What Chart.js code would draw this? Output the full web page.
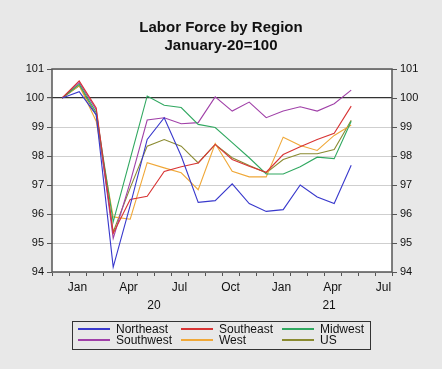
<!DOCTYPE html>
<html>
<head>
<meta charset="utf-8">
<script src="https://cdn.jsdelivr.net/npm/chart.js@4.4.1/dist/chart.umd.min.js"></script>
<style>
  html, body { margin: 0; padding: 0; background: #e8e8e8; }
  #wrap { position: relative; width: 442px; height: 369px; font-family: "Liberation Sans", Arial, sans-serif; }
  #legend { position: absolute; left: 72px; top: 321px; width: 297px; height: 27px; border: 1px solid #333; }
  #legend .ln { position: absolute; height: 2px; width: 32px; z-index: 2; }
  #legend .tx { position: absolute; font-size: 12px; line-height: 12px; color: #111; }
</style>
</head>
<body>
<div id="wrap">
  <canvas id="chart" width="442" height="369"></canvas>
  <div id="legend"></div>
</div>
<script>
// months Jan-20 .. Jun-21, index 100 = January 2020
const months = ['Jan-20','Feb-20','Mar-20','Apr-20','May-20','Jun-20','Jul-20','Aug-20','Sep-20',
                'Oct-20','Nov-20','Dec-20','Jan-21','Feb-21','Mar-21','Apr-21','May-21','Jun-21'];

const northeast = [100, 100.22, 99.42, 94.17, 96.3, 98.57, 99.32, 98.0, 96.40, 96.46, 97.04, 96.36, 96.09, 96.15, 97.0, 96.59, 96.36, 97.68];
const southeast = [100, 100.59, 99.66, 95.33, 96.5, 96.61, 97.47, 97.63, 97.76, 98.40, 97.88, 97.65, 97.44, 98.05, 98.32, 98.57, 98.78, 99.72];
const midwest   = [100, 100.47, 99.5, 95.73, 97.9, 100.07, 99.75, 99.67, 99.09, 98.98, 98.46, 97.94, 97.38, 97.38, 97.63, 97.96, 97.91, 99.20];
const southwest = [100, 100.53, 99.6, 95.16, 97.1, 99.24, 99.32, 99.11, 99.15, 100.04, 99.55, 99.86, 99.32, 99.55, 99.70, 99.55, 99.80, 100.27];
const west      = [100, 100.44, 99.2, 95.9, 95.82, 97.77, 97.59, 97.42, 96.84, 98.43, 97.47, 97.28, 97.28, 98.65, 98.36, 98.19, 98.71, 99.07];
const us        = [100, 100.42, 99.42, 95.38, 96.9, 98.34, 98.57, 98.34, 97.76, 98.40, 97.94, 97.67, 97.42, 97.88, 98.08, 98.08, 98.22, 99.23];

const quarterLabels = ['Jan','Apr','Jul','Oct','Jan','Apr','Jul'];
const quarterPos    = [1.5, 4.5, 7.5, 10.5, 13.5, 16.5, 19.5];
const yearLabels    = ['20','21'];
const yearPos       = [6, 16.3];
const yTicks        = [94, 95, 96, 97, 98, 99, 100, 101];

const series = [
  { name: 'Northeast', data: northeast, color: '#3838cc' },
  { name: 'Southeast', data: southeast, color: '#d83434' },
  { name: 'Midwest',   data: midwest,   color: '#30a860' },
  { name: 'Southwest', data: southwest, color: '#a040a8' },
  { name: 'West',      data: west,      color: '#f0a838' },
  { name: 'US',        data: us,        color: '#8a8a30' }
];

const font = "'Liberation Sans', Arial, sans-serif";

// white plot area + dark frame
const frame = {
  id: 'frame',
  beforeDraw(chart) {
    const a = chart.chartArea, c = chart.ctx;
    c.save();
    c.fillStyle = '#ffffff';
    c.fillRect(a.left, a.top, a.right - a.left, a.bottom - a.top);
    c.restore();
  },
  afterDraw(chart) {
    const a = chart.chartArea, c = chart.ctx;
    c.save();
    c.strokeStyle = '#555';
    c.lineWidth = 1.5;
    c.strokeRect(a.left, a.top, a.right - a.left, a.bottom - a.top);
    c.restore();
  }
};

function fixedTicks(values) {
  return function(scale) { scale.ticks = values.map(v => ({ value: v })); };
}

new Chart(document.getElementById('chart'), {
  type: 'line',
  data: {
    datasets: series.map(s => ({
      label: s.name,
      data: s.data.map((v, i) => ({ x: i + 0.6, y: v })),
      borderColor: s.color,
      borderWidth: 1.1,
      pointRadius: 0,
      tension: 0,
      fill: false
    }))
  },
  options: {
    responsive: false,
    animation: false,
    layout: { padding: { left: 0, right: 0, bottom: 56 } },
    plugins: {
      legend: { display: false },
      tooltip: { enabled: false },
      title: {
        display: true,
        text: ['Labor Force by Region', 'January-20=100'],
        color: '#111',
        font: { family: font, size: 15, weight: 'bold', lineHeight: 1.2 },
        padding: { top: 19, bottom: 14 }
      }
    },
    scales: {
      x: {
        type: 'linear', position: 'bottom', weight: 0, min: 0, max: 20,
        afterBuildTicks: fixedTicks([...Array(21).keys()]),
        afterFit(scale) { scale.height = 5; },
        ticks: { display: false },
        grid: { drawOnChartArea: false, tickLength: 4, tickColor: '#555' },
        border: { display: false }
      },
      xq: {
        type: 'linear', position: 'bottom', weight: 1, min: 0, max: 20,
        afterBuildTicks: fixedTicks(quarterPos),
        afterFit(scale) { scale.height = 18; },
        ticks: {
          autoSkip: false, maxRotation: 0, padding: 3, color: '#111',
          font: { family: font, size: 12 },
          callback: (v) => quarterLabels[quarterPos.indexOf(v)]
        },
        grid: { display: false, drawTicks: false },
        border: { display: false }
      },
      xy: {
        type: 'linear', position: 'bottom', weight: 2, min: 0, max: 20,
        afterBuildTicks: fixedTicks(yearPos),
        afterFit(scale) { scale.height = 18; },
        ticks: {
          autoSkip: false, maxRotation: 0, padding: 3, color: '#111',
          font: { family: font, size: 12 },
          callback: (v) => yearLabels[yearPos.indexOf(v)]
        },
        grid: { display: false, drawTicks: false },
        border: { display: false }
      },
      y: {
        position: 'left', min: 94, max: 101,
        afterBuildTicks: fixedTicks(yTicks),
        afterFit(scale) { scale.width = 52; },
        ticks: { color: '#111', padding: 3, font: { family: font, size: 11 } },
        grid: {
          tickLength: 5, tickColor: '#555',
          color: (ctx) => ctx.tick && ctx.tick.value === 100 ? '#333' : '#cfcfcf',
          lineWidth: (ctx) => ctx.tick && ctx.tick.value === 100 ? 1.2 : 1
        },
        border: { display: false }
      },
      y2: {
        position: 'right', min: 94, max: 101,
        afterBuildTicks: fixedTicks(yTicks),
        afterFit(scale) { scale.width = 50; },
        ticks: { color: '#111', padding: 3, font: { family: font, size: 11 } },
        grid: { drawOnChartArea: false, tickLength: 5, tickColor: '#555' },
        border: { display: false }
      }
    }
  },
  plugins: [frame]
});

// legend box, three columns by two rows
const legend = document.getElementById('legend');
const colX = [5, 108, 209];
series.forEach((s, i) => {
  const col = i % 3, row = Math.floor(i / 3);
  const top = row === 0 ? 6 : 17;
  const ln = document.createElement('div');
  ln.className = 'ln';
  ln.style.left = colX[col] + 'px';
  ln.style.top = top + 'px';
  ln.style.backgroundColor = s.color;
  const tx = document.createElement('div');
  tx.className = 'tx';
  tx.textContent = s.name;
  tx.style.left = (colX[col] + 38) + 'px';
  tx.style.top = (top - 5) + 'px';
  legend.appendChild(ln);
  legend.appendChild(tx);
});
</script>
</body>
</html>
